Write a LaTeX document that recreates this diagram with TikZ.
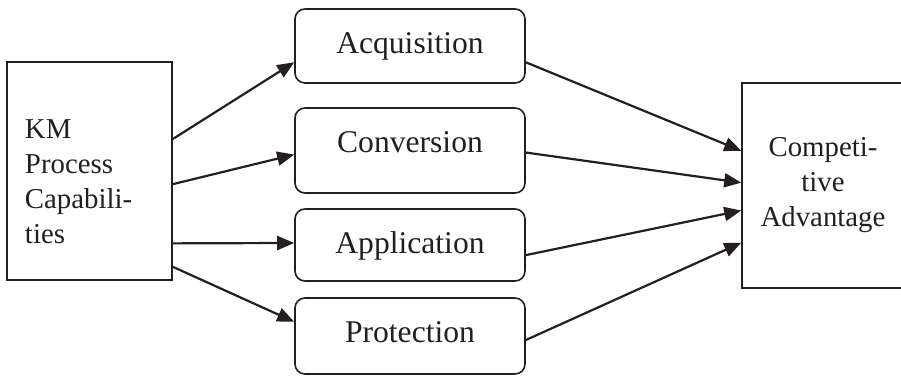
\documentclass[tikz,border=0pt]{standalone}
\usepackage{fontspec}
\setmainfont{Liberation Serif}
\usetikzlibrary{arrows.meta}
\definecolor{ink}{HTML}{231F20}
\tikzset{
  ->,
  >={Triangle[length=8.5pt,width=7pt]},
  stage/.style={draw, -, line width=0.8pt, rounded corners=5pt, minimum width=115pt,
    font=\fontsize{15.8}{19}\selectfont, text height=10.8pt},
  side/.style={draw, -, line width=0.75pt, font=\fontsize{14.4}{17.5}\selectfont},
}

\begin{document}
\begin{tikzpicture}[x=0.5pt, y=-0.5pt, color=ink, line width=1.1pt]
        \useasboundingbox (0,0) rectangle (901,376);

        % boxes
        \node[side, minimum width=82.5pt, minimum height=109pt, text width=64.5pt,
              inner xsep=9pt, align=left, text height=20.5pt] (km) at (89.5,171)
              {KM\\Process\\Capabili-\\ties};
        \node[stage, minimum height=37pt, text depth=3.8pt] (acq) at (410,46) {Acquisition};
        \node[stage, minimum height=42.5pt, text depth=9.2pt] (conv) at (410,150.5) {Conversion};
        \node[stage, minimum height=36pt, text depth=2.8pt] (appl) at (410,245) {Application};
        \node[stage, minimum height=38pt, text depth=4.8pt] (prot) at (410,336) {Protection};
        \node[side, minimum width=81pt, minimum height=102.5pt, align=center] (comp) at (823,185.5)
              {Competi-\\tive\\Advantage};

        % arrows
        \path (km.21) edge (acq.188)
              (km.-9) edge (conv.182)
              (km.-41) edge (appl.179)
              (km.-49) edge (prot.173)
              (acq.-8) edge (comp.157)
              (conv.-1) edge (comp.178)
              (appl.-5) edge (comp.197)
              (prot.-2) edge (comp.215);
\end{tikzpicture}
\end{document}
